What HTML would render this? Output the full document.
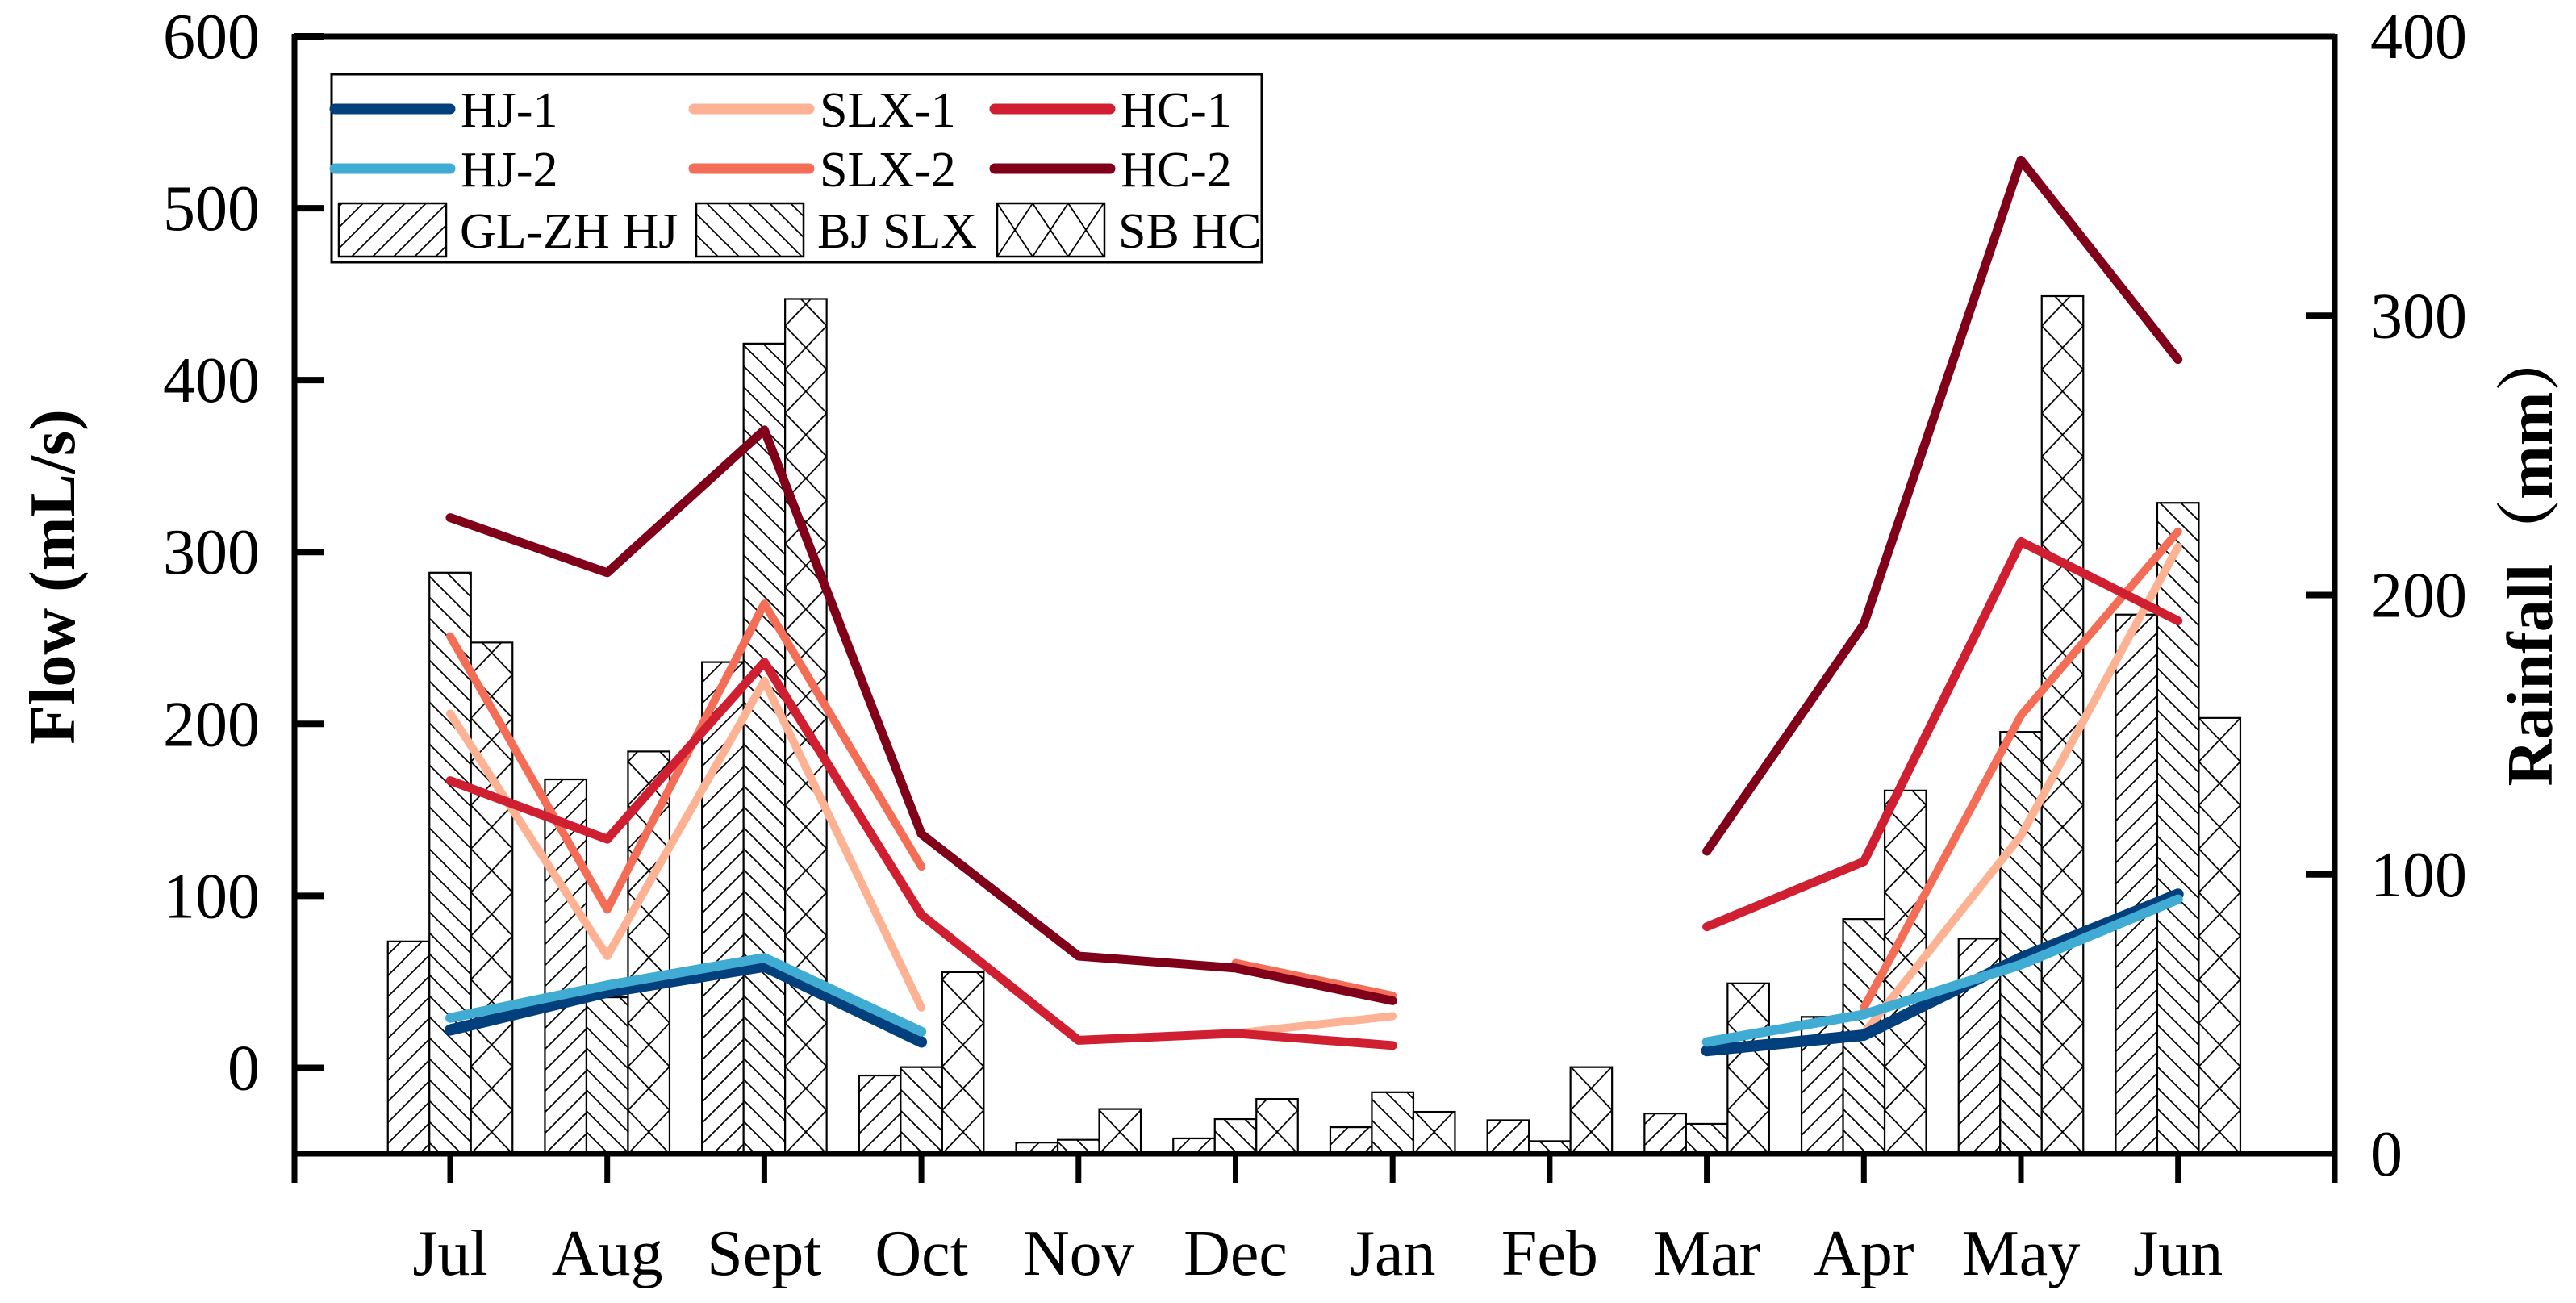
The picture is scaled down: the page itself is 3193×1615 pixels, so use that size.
<!DOCTYPE html>
<html><head><meta charset="utf-8"><style>
html,body{margin:0;padding:0;background:#fff;}
svg{display:block;font-family:"Liberation Serif","Noto Serif CJK SC",serif;}
</style></head><body>
<svg id="chart" width="3193" height="1615" viewBox="0 0 3193 1615" xmlns="http://www.w3.org/2000/svg">
<defs>
<pattern id="hatchFwd" patternUnits="userSpaceOnUse" width="26" height="26">
<path d="M0,26 L26,0 M-2,2 L2,-2 M24,28 L28,24" stroke="#000" stroke-width="1.8"/>
</pattern>
<pattern id="hatchBack" patternUnits="userSpaceOnUse" width="26" height="26">
<path d="M0,0 L26,26 M-2,24 L2,28 M24,-2 L28,2" stroke="#000" stroke-width="1.8"/>
</pattern>
</defs>
<g id="bars"></g>
<g id="lines"></g>
<g id="axes"></g>
<g id="legend"></g>
</svg>
<script>
const months = ["Jul","Aug","Sept","Oct","Nov","Dec","Jan","Feb","Mar","Apr","May","Jun"];
const flowTicks = [0,100,200,300,400,500,600];
const rainTicks = [0,100,200,300,400];
const rainGLZH = [76,134,176,28,4,5.5,9.5,12,14.4,49,77,193];
const rainBJ = [208,56,290,31,5,12.4,22,4.5,10.7,84,151,233];
const rainSB = [183,144,306,65,16,19.6,15,31,61,130,307,156];
const hj1 = [22,44,59,15,null,null,null,null,10,19,64,101];
const hj2 = [29,48,64,21,null,null,null,null,15,31,60,98];
const slx1 = [206,65,225,35,null,20,30,null,null,20,135,303];
const slx2 = [251,92,270,117,null,61,42,null,null,35,205,312];
const hc1 = [167,133,236,89,16,20,13,null,82,120,306,260];
const hc2 = [320,288,371,136,65,58,39,null,126,258,528,412];

const NS="http://www.w3.org/2000/svg";
const svg=document.getElementById('chart');
const L=365,R=2894,T=45,B=1430;
const xM=i=>558+i*194.7;
const yF=v=>B-(v+50)*(B-T)/650;
const yR=v=>B-v*(B-T)/400;
function mk(tag,attrs,parent){const e=document.createElementNS(NS,tag);for(const k in attrs)e.setAttribute(k,attrs[k]);parent.appendChild(e);return e;}

const barsG=document.getElementById('bars');
const defs=svg.querySelector('defs');
const bw=51.5;
const series=[[rainGLZH,'url(#hatchFwd)','gl-zh-hj'],[rainBJ,'url(#hatchBack)','bj-slx'],[rainSB,null,'sb-hc']];
series.forEach((s,si)=>{
  s[0].forEach((v,i)=>{
    const x=xM(i)+(si-1)*bw-bw/2, y=yR(v), h=B-y;
    let fill=s[1];
    if(!fill){
      const p=mk('pattern',{id:'cross'+i,patternUnits:'userSpaceOnUse',x:x,y:B,width:bw,height:54},defs);
      mk('path',{d:`M0,0 L${bw},54 M${bw},0 L0,54`,stroke:'#000','stroke-width':1.8},p);
      fill='url(#cross'+i+')';
    }
    mk('rect',{x:x,y:y,width:bw,height:h,fill:'#fff'},barsG);
    const r=mk('rect',{x:x,y:y,width:bw,height:h,fill:fill,stroke:'#000','stroke-width':2.2},barsG);
    
    
  });
});

const linesG=document.getElementById('lines');
const lineSpecs=[[slx1,'#fdb294',10,'slx-1'],[slx2,'#f46d56',10,'slx-2'],[hc1,'#d11f32',11,'hc-1'],[hc2,'#80001a',11,'hc-2'],[hj1,'#013f7d',14,'hj-1'],[hj2,'#41acd3',12,'hj-2']];
lineSpecs.forEach(sp=>{
  let d='',pen=false;
  sp[0].forEach((v,i)=>{
    if(v===null){pen=false;return;}
    d+=(pen?'L':'M')+xM(i).toFixed(1)+','+yF(v).toFixed(1)+' ';pen=true;
  });
  const p=mk('path',{d:d,fill:'none',stroke:sp[1],'stroke-width':sp[2],'stroke-linecap':'round','stroke-linejoin':'round'},linesG);
  
  
});

const ax=document.getElementById('axes');
mk('path',{d:`M${L},${T} L${R},${T}`,stroke:'#000','stroke-width':7},ax);
const la=mk('path',{d:`M${L},${T-3} L${L},1466`,stroke:'#000','stroke-width':7},ax);

const ra=mk('path',{d:`M${R},${T-3} L${R},1466`,stroke:'#000','stroke-width':7},ax);

const ba=mk('path',{d:`M${L-3},${B} L${R+3},${B}`,stroke:'#000','stroke-width':7},ax);

flowTicks.forEach(v=>{
  const y=yF(v);
  mk('path',{d:`M${L},${y} L${L+36},${y}`,stroke:'#000','stroke-width':8},ax);
  const t=mk('text',{x:322,y:y+27,'text-anchor':'end','font-size':80},ax);t.textContent=v;
  
});
rainTicks.forEach(v=>{
  const y=yR(v);
  if(v>0&&v<400)mk('path',{d:`M${R-36},${y} L${R},${y}`,stroke:'#000','stroke-width':8},ax);
  const t=mk('text',{x:2938,y:y+27,'text-anchor':'start','font-size':80},ax);t.textContent=v;
  
});
months.forEach((m,i)=>{
  const x=xM(i);
  mk('path',{d:`M${x},${B} L${x},1466`,stroke:'#000','stroke-width':7},ax);
  const t=mk('text',{x:x,y:1580,'text-anchor':'middle','font-size':80},ax);t.textContent=m;
  
});
const yt=mk('text',{x:0,y:0,'text-anchor':'middle','font-size':80,'font-weight':'bold',transform:'translate(92,715) rotate(-90)'},ax);
yt.textContent='Flow (mL/s)';

const yt2=mk('text',{x:0,y:0,'text-anchor':'middle','font-size':80,'font-weight':'bold',transform:'translate(3163,690) rotate(-90)'},ax);
yt2.textContent='Rainfall（mm）';


const lg=document.getElementById('legend');
mk('rect',{x:411,y:92,width:1153,height:233,fill:'#fff',stroke:'#000','stroke-width':3},lg);
const legLines=[['HJ-1','#013f7d',415,135],['HJ-2','#41acd3',415,209],['SLX-1','#fdb294',860,135],['SLX-2','#f46d56',860,209],['HC-1','#d11f32',1233,135],['HC-2','#80001a',1233,209]];
legLines.forEach(l=>{
  const g=mk('g',{},lg);
  
  
  mk('path',{d:`M${l[2]},${l[3]} L${l[2]+143},${l[3]}`,stroke:l[1],'stroke-width':13,'stroke-linecap':'round'},g);
  const t=mk('text',{x:l[2]+156,y:l[3]+22,'font-size':62},g);t.textContent=l[0];
});
const legBars=[['GL-ZH HJ','url(#hatchFwd)',420],['BJ SLX','url(#hatchBack)',863],['SB HC',null,1236]];
legBars.forEach(b=>{
  const g=mk('g',{},lg);
  
  
  let fill=b[1];
  if(!fill){
    const p=mk('pattern',{id:'crossLeg',patternUnits:'userSpaceOnUse',x:b[2],y:252,width:44,height:66},defs);
    mk('path',{d:'M0,0 L44,66 M44,0 L0,66',stroke:'#000','stroke-width':1.8},p);
    fill='url(#crossLeg)';
  }
  mk('rect',{x:b[2],y:252,width:133,height:66,fill:fill,stroke:'#000','stroke-width':2.5},g);
  const t=mk('text',{x:b[2]+150,y:307,'font-size':62},g);t.textContent=b[0];
});
</script>
</body></html>
